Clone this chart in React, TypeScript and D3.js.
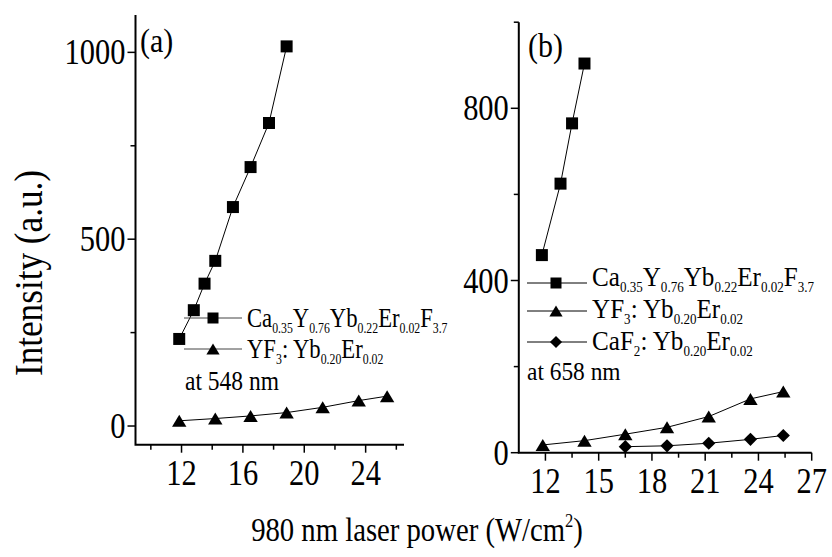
import React from 'react';
import * as d3 from 'd3';

const FONT = 'Liberation Serif, Times New Roman, Times, Tinos, Nimbus Roman, DejaVu Serif, serif';

// ---------- Data ----------
// Panel (a): emission at 548 nm
const powerA_sq = [11.85, 12.8, 13.5, 14.2, 15.35, 16.5, 17.7, 18.85];
const intensityA_sq = [233, 310, 381, 442, 586, 693, 811, 1016];
const powerTri = [11.85, 14.2, 16.5, 18.85, 21.2, 23.55, 25.4];
const intensityA_tri = [14, 20, 27, 36, 50, 68, 80];

// Panel (b): emission at 658 nm
const powerB_sq = [11.8, 12.85, 13.5, 14.2];
const intensityB_sq = [459, 625, 765, 904];
const intensityB_tri = [18, 28, 43, 59, 84, 125, 142];
const powerB_dia = [16.5, 18.85, 21.2, 23.55, 25.4];
const intensityB_dia = [14, 16, 22, 31, 40];

// Tick values
const xTicksA = [12, 16, 20, 24];
const xMinorA = [10, 14, 18, 22, 26];
const yTicksA = [0, 500, 1000];
const yMinorA = [250, 750];
const xTicksB = [12, 15, 18, 21, 24, 27];
const xMinorB = [13.5, 16.5, 19.5, 22.5, 25.5];
const yTicksB = [0, 400, 800];
const yMinorB = [200, 600, 1000];

// Legend labels (text, isSubscript)
type Seg = [string, number];
const labelCaY: Seg[] = [["Ca", 0], ["0.35", 1], ["Y", 0], ["0.76", 1], ["Yb", 0], ["0.22", 1], ["Er", 0], ["0.02", 1], ["F", 0], ["3.7", 1]];
const labelYF3: Seg[] = [["YF", 0], ["3", 1], [": Yb", 0], ["0.20", 1], ["Er", 0], ["0.02", 1]];
const labelCaF2: Seg[] = [["CaF", 0], ["2", 1], [": Yb", 0], ["0.20", 1], ["Er", 0], ["0.02", 1]];

type MarkerType = 'square' | 'triangle' | 'diamond';

function markerPath(type: MarkerType, s: number): string {
  if (type === 'square') {
    const h = s / 2;
    return `M${-h},${-h}H${h}V${h}H${-h}Z`;
  }
  if (type === 'triangle') {
    const w = s * 0.6, h = s * 0.5;
    return `M0,${-h}L${w},${h}L${-w},${h}Z`;
  }
  const r = s * 0.55;
  return `M0,${-r}L${r},0L0,${r}L${-r},0Z`;
}

function Marker({ type, x, y, s }: { type: MarkerType; x: number; y: number; s: number }) {
  return <path d={markerPath(type, s)} transform={`translate(${x},${y})`} fill="#000" stroke="none" />;
}

function Series({ xs, ys, xScale, yScale, type }: any) {
  const pts: [number, number][] = xs.map((v: number, i: number) => [xScale(v), yScale(ys[i])]);
  const line = d3.line();
  return (
    <g>
      <path d={line(pts) || ''} fill="none" stroke="#000" strokeWidth={1} />
      {pts.map((p, i) => (
        <Marker key={i} type={type} x={p[0]} y={p[1]} s={12} />
      ))}
    </g>
  );
}

const textStyle = { fontFamily: FONT };

function RichText({ x, y, size, sx, segs }: { x: number; y: number; size: number; sx: number; segs: Seg[] }) {
  let cur = 0;
  const subSize = size * 0.52;
  const subOff = size * 0.22;
  return (
    <text transform={`translate(${x},${y}) scale(${sx},1)`} style={textStyle} fontSize={size} fill="#000">
      {segs.map(([t, sub], i) => {
        const target = sub ? subOff : 0;
        const dy = target - cur;
        cur = target;
        return (
          <tspan key={i} dy={dy} fontSize={sub ? subSize : size}>
            {t}
          </tspan>
        );
      })}
    </text>
  );
}

function Txt({ x, y, size, sx, anchor, children }: any) {
  return (
    <text
      transform={`translate(${x},${y}) scale(${sx},1)`}
      style={textStyle}
      fontSize={size}
      textAnchor={anchor || 'start'}
      fill="#000"
    >
      {children}
    </text>
  );
}

function Axes({ xScale, yScale, xTicks, xMinor, yTicks, yMinor, fmt }: any) {
  const [x0, x1] = xScale.range();
  const [y0, y1] = yScale.range();
  const tickSize = 35;
  return (
    <g>
      <path d={`M${x0},${y1}V${y0}H${x1}`} fill="none" stroke="#000" strokeWidth={2} />
      {xTicks.map((t: number) => (
        <g key={'xt' + t}>
          <line x1={xScale(t)} x2={xScale(t)} y1={y0} y2={y0 + 8} stroke="#000" strokeWidth={1.5} />
          <Txt x={xScale(t)} y={y0 + 40} size={tickSize} sx={0.87} anchor="middle">
            {fmt(t)}
          </Txt>
        </g>
      ))}
      {xMinor.map((t: number) => (
        <line key={'xm' + t} x1={xScale(t)} x2={xScale(t)} y1={y0} y2={y0 + 5} stroke="#000" strokeWidth={1.5} />
      ))}
      {yTicks.map((t: number) => (
        <g key={'yt' + t}>
          <line x1={x0} x2={x0 - 8} y1={yScale(t)} y2={yScale(t)} stroke="#000" strokeWidth={1.5} />
          <Txt x={x0 - 10} y={yScale(t) + 12} size={tickSize} sx={0.87} anchor="end">
            {fmt(t)}
          </Txt>
        </g>
      ))}
      {yMinor.map((t: number) => (
        <line key={'ym' + t} x1={x0} x2={x0 - 5} y1={yScale(t)} y2={yScale(t)} stroke="#000" strokeWidth={1.5} />
      ))}
    </g>
  );
}

function LegendRow({ type, x0, x1, mx, my, tx, ty, size, sx, segs, stroke }: any) {
  return (
    <g>
      <line x1={x0} x2={x1} y1={my} y2={my} stroke={stroke} strokeWidth={1} />
      <Marker type={type} x={mx} y={my} s={11} />
      <RichText x={tx} y={ty} size={size} sx={sx} segs={segs} />
    </g>
  );
}

export default function App() {
  const xA = d3.scaleLinear().domain([9, 26.5]).range([135.5, 404]);
  const yA = d3.scaleLinear().domain([-50, 1100]).range([444.7, 15]);
  const xB = d3.scaleLinear().domain([10.5, 27]).range([518.8, 811.7]);
  const yB = d3.scaleLinear().domain([0, 1000]).range([452.7, 22.2]);
  const fmt = d3.format('d');

  return (
    <svg
      width={832}
      height={557}
      style={{ position: 'absolute', left: 0, top: 0, background: '#fff' }}
    >
      <rect width={832} height={557} fill="#fff" />

      {/* Panel (a) */}
      <Axes xScale={xA} yScale={yA} xTicks={xTicksA} xMinor={xMinorA} yTicks={yTicksA} yMinor={yMinorA} fmt={fmt} />
      <Series xs={powerA_sq} ys={intensityA_sq} xScale={xA} yScale={yA} type="square" />
      <Series xs={powerTri} ys={intensityA_tri} xScale={xA} yScale={yA} type="triangle" />
      <Txt x={140} y={52} size={34} sx={0.88}>(a)</Txt>
      <LegendRow type="square" x0={184} x1={242} mx={213} my={318} tx={247} ty={327} size={27} sx={0.84} segs={labelCaY} stroke="#444" />
      <LegendRow type="triangle" x0={184} x1={242} mx={213} my={349} tx={247} ty={358} size={27} sx={0.84} segs={labelYF3} stroke="#444" />
      <Txt x={185} y={390} size={27} sx={0.87}>at 548 nm</Txt>

      {/* Panel (b) */}
      <Axes xScale={xB} yScale={yB} xTicks={xTicksB} xMinor={xMinorB} yTicks={yTicksB} yMinor={yMinorB} fmt={fmt} />
      <Series xs={powerB_sq} ys={intensityB_sq} xScale={xB} yScale={yB} type="square" />
      <Series xs={powerTri} ys={intensityB_tri} xScale={xB} yScale={yB} type="triangle" />
      <Series xs={powerB_dia} ys={intensityB_dia} xScale={xB} yScale={yB} type="diamond" />
      <Txt x={528} y={57} size={34} sx={0.88}>(b)</Txt>
      <LegendRow type="square" x0={527} x1={587} mx={556} my={283} tx={592} ty={286} size={27} sx={0.93} segs={labelCaY} stroke="#000" />
      <LegendRow type="triangle" x0={527} x1={587} mx={556} my={311} tx={592} ty={318} size={27} sx={0.93} segs={labelYF3} stroke="#000" />
      <LegendRow type="diamond" x0={527} x1={587} mx={556} my={342} tx={592} ty={350} size={27} sx={0.93} segs={labelCaF2} stroke="#000" />
      <Txt x={527} y={380} size={26} sx={0.9}>at 658 nm</Txt>

      {/* Axis titles */}
      <text
        transform="translate(42,273) rotate(-90) scale(0.88,1)"
        style={textStyle}
        fontSize={40}
        textAnchor="middle"
        fill="#000"
      >
        Intensity (a.u.)
      </text>
      <text transform="translate(417,541) scale(0.87,1)" style={textStyle} fontSize={33} textAnchor="middle" fill="#000">
        980 nm laser power (W/cm
        <tspan fontSize={19} dy={-14}>2</tspan>
        <tspan dy={14}>)</tspan>
      </text>
    </svg>
  );
}
